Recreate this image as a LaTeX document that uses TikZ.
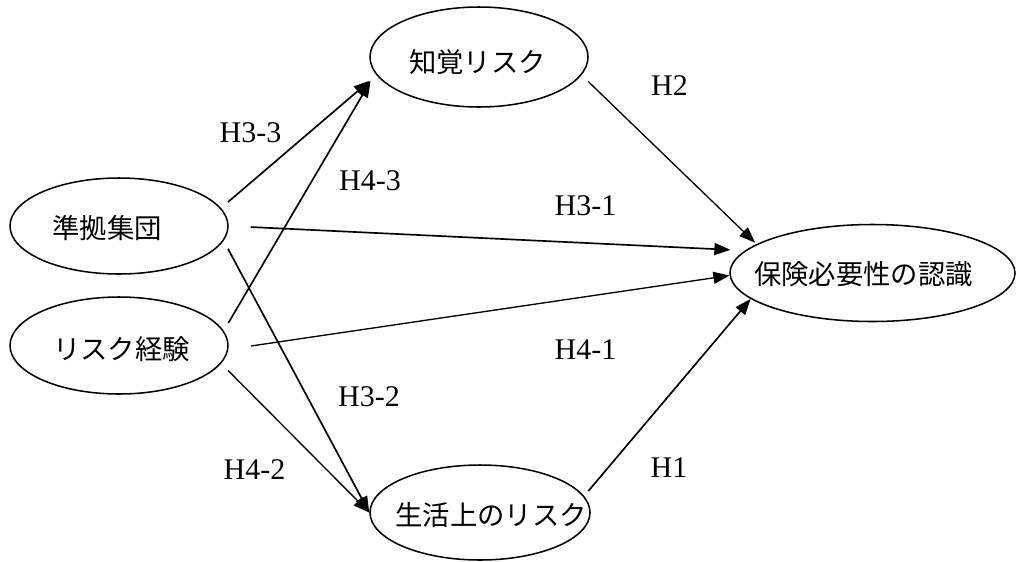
\documentclass[tikz,border=0pt]{standalone}
\usepackage{fontspec}
\setmainfont{Liberation Serif}
\newfontfamily\jp{Noto Sans CJK JP}
\usetikzlibrary{shapes.geometric,arrows.meta,calc}
\begin{document}
\begin{tikzpicture}[x=0.75pt,y=-0.75pt,
  ell/.style={draw, ellipse, line width=1.15pt, inner sep=0pt},
  jt/.style={font=\jp\fontsize{20.5}{24}\selectfont, inner sep=0pt},
  hl/.style={font=\fontsize{22.5}{26}\selectfont, inner sep=0pt},
  conn/.style={-{Triangle[length=12pt,width=9pt]}, line width=1.25pt},
  connthin/.style={conn, line width=1pt}]
\useasboundingbox (0,0) rectangle (1016,561);
% ellipses
\node[ell, minimum width=163.5pt, minimum height=75pt] (chikaku) at (479,57) {};
\node[ell, minimum width=163.5pt, minimum height=72pt] (zhun) at (119,226) {};
\node[ell, minimum width=163.5pt, minimum height=72.75pt] (keiken) at (119,345.5) {};
\node[ell, minimum width=213.75pt, minimum height=72.75pt] (hoken) at (872.5,273) {};
\node[ell, minimum width=165pt, minimum height=71.25pt] (seikatsu) at (480,512.5) {};
% texts
\node[jt] (t1) at (477.5,62) {知覚リスク};
\node[jt] (t2) at (107,228.5) {準拠集団};
\node[jt] (t3) at (121.5,349.5) {リスク経験};
\node[jt] (t4) at (863.5,274.5) {保険必要性の認識};
\node[jt] (t5) at (491,515) {生活上のリスク};
% connectors
\draw[conn, shorten <=6.9pt, shorten >=6.5pt] (zhun.10) -- (chikaku.190.9);
\draw[conn, shorten <=6.75pt, shorten >=6.75pt] (keiken.8.4) -- (chikaku.189.6);
\draw[conn, shorten <=16.5pt, shorten >=11pt] (zhun.0.6) -- (hoken.170.6);
\draw[connthin, shorten <=17pt, shorten >=0pt] (keiken.-2.2) -- (hoken.181.6);
\draw[connthin, shorten <=7pt, shorten >=1.5pt] (chikaku.-10.4) -- (hoken.166.2);
\draw[conn, shorten <=4.9pt, shorten >=0pt] (seikatsu.9.45) -- (hoken.192.5);
\draw[conn, shorten <=6.9pt, shorten >=0pt] (zhun.-8.2) -- (seikatsu.180);
\draw[connthin, shorten <=7.4pt, shorten >=0pt] (keiken.-10.1) -- (seikatsu.180);
% labels
\node[hl] (l33) at (250.5,133) {H3-3};
\node[hl] (l43) at (370,181) {H4-3};
\node[hl] (l31) at (585.5,205.5) {H3-1};
\node[hl] (l41) at (585.5,349.5) {H4-1};
\node[hl] (l2) at (669.5,86) {H2};
\node[hl] (l1) at (669,468) {H1};
\node[hl] (l32) at (369,397) {H3-2};
\node[hl] (l42) at (254.5,469.5) {H4-2};
\end{tikzpicture}
\end{document}
